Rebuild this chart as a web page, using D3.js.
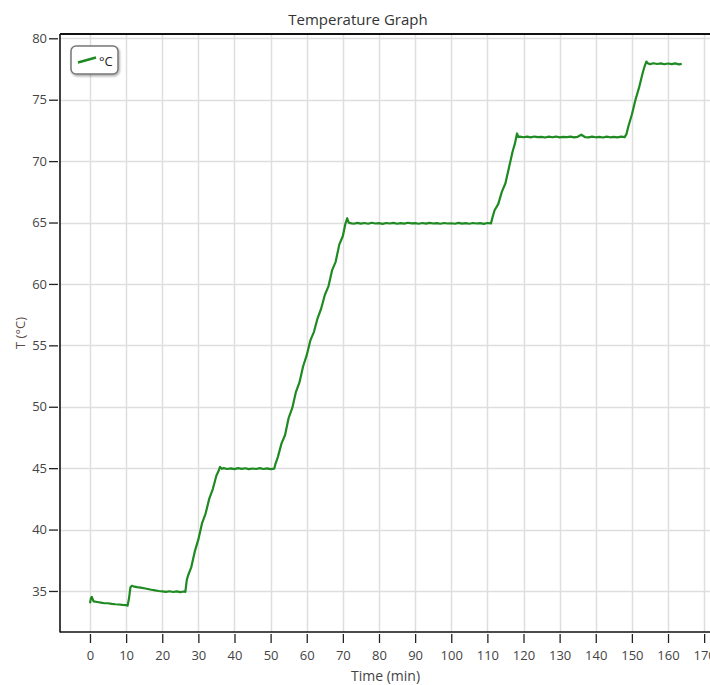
<!DOCTYPE html>
<html>
<head>
<meta charset="utf-8">
<script src="https://cdn.jsdelivr.net/npm/d3@7"></script>
<style>
  html, body { margin: 0; padding: 0; background: #fff; }
  svg { display: block; font-family: "Open Sans", "Noto Sans", sans-serif; }
</style>
</head>
<body>
<div id="chart"></div>
<script>
  ///
  /// Data
  ///
  var time = [
    0, 0.3, 0.5, 1, 2, 3, 4, 5, 6, 7, 8, 9, 10, 10.4,
    10.8, 11.2, 11.6, 12, 13, 14, 15, 16, 17, 18, 19, 20, 21, 22, 23, 24, 25, 26, 26.4,
    26.8, 27.2, 28, 29, 30, 31, 32, 33, 34, 35, 35.5, 36,
    36.5, 37, 38, 39, 40, 41, 42, 43, 44, 45, 46, 47, 48, 49, 50, 51,
    51.3, 52, 53, 54, 55, 56, 57, 58, 59, 60, 61, 62, 63, 64, 65, 66, 67, 68, 69, 70, 70.7, 71.2, 71.6,
    72, 73, 74, 75, 76, 77, 78, 79, 80, 81, 82, 83, 84, 85, 86, 87, 88, 89, 90, 91,
    92, 93, 94, 95, 96, 97, 98, 99, 100, 101, 102, 103, 104, 105, 106, 107, 108, 109, 110, 111,
    111.4, 112, 113, 114, 115, 116, 117, 117.6, 118.2, 118.6,
    119, 120, 121, 122, 123, 124, 125, 126, 127, 128, 129, 130, 131, 132, 133,
    134, 135, 136, 137, 138, 139, 140, 141, 142, 143, 144, 145, 146, 147, 148,
    148.5, 149, 150, 151, 152, 153, 153.5, 154,
    154.5, 155, 156, 157, 158, 159, 160, 161, 162, 163, 163.8
  ];

  var temp = [
    34.0, 34.45, 34.52, 34.15, 34.1, 34.05, 34.0, 34.0, 33.95, 33.92, 33.9, 33.87, 33.85, 33.8,
    34.4, 35.3, 35.42, 35.38, 35.32, 35.27, 35.22, 35.16, 35.1, 35.05, 35.0, 34.97, 34.93, 34.98, 34.92, 34.97, 34.91, 34.96, 34.93,
    35.9, 36.3, 36.9, 38.2, 39.2, 40.5, 41.3, 42.5, 43.3, 44.4, 44.7, 45.1,
    44.95, 45.0, 44.93, 44.98, 44.92, 45.0, 44.94, 44.99, 44.92, 44.97, 44.93, 45.0, 44.93, 44.98, 44.92, 44.96,
    45.3, 45.9, 47.0, 47.7, 49.1, 49.9, 51.2, 52.0, 53.3, 54.2, 55.4, 56.1, 57.2, 58.0, 59.1, 59.8, 61.1, 61.8, 63.2, 63.9, 64.9, 65.35, 65.0,
    64.95, 64.9, 64.97, 64.91, 64.96, 64.9, 64.98, 64.92, 64.95, 64.89, 64.96, 64.92, 64.97, 64.9, 64.95, 64.91, 64.98, 64.93, 64.95, 64.9,
    64.96, 64.91, 64.97, 64.92, 64.95, 64.9, 64.96, 64.92, 64.94, 64.9, 64.97, 64.91, 64.95, 64.9, 64.96, 64.92, 64.95, 64.89, 64.96, 64.93,
    65.4, 66.0, 66.5, 67.5, 68.2, 69.5, 70.8, 71.4, 72.25, 71.95,
    72.0, 71.94, 71.99, 71.93, 72.0, 71.95, 71.98, 71.92, 71.99, 71.94, 72.0, 71.93, 71.97, 71.95, 71.99,
    71.93, 71.98, 72.15, 71.96, 71.93, 71.99, 71.94, 71.98, 71.92, 71.99, 71.94, 71.97, 71.93, 71.99, 71.95,
    72.2, 72.8, 73.8, 75.0, 76.0, 77.2, 77.7, 78.1,
    77.95, 77.9, 77.97, 77.91, 77.96, 77.89, 77.95, 77.9, 77.96, 77.88, 77.92
  ];

  var xTicks = [0, 10, 20, 30, 40, 50, 60, 70, 80, 90, 100, 110, 120, 130, 140, 150, 160, 170];
  var yTicks = [35, 40, 45, 50, 55, 60, 65, 70, 75, 80];

  var title = "Temperature Graph";
  var xTitle = "Time (min)";
  var yTitle = "T (°C)";
  var seriesName = "°C";

  ///
  /// Layout
  ///
  var width = 710, height = 685;
  var plotLeft = 60, plotRight = 711, plotTop = 34, plotBottom = 632;
  var lineColor = "#1f8a22";

  var x = d3.scaleLinear().domain([-8.3, 171.9]).range([plotLeft, plotRight]);
  var y = d3.scaleLinear().domain([31.66, 80.35]).range([plotBottom, plotTop]);

  var svg = d3.select("#chart").append("svg")
      .attr("width", width)
      .attr("height", height);

  svg.append("rect").attr("width", width).attr("height", height).attr("fill", "#fff");

  var defs = svg.append("defs");
  var shadow = defs.append("filter").attr("id", "shadow")
      .attr("x", "-20%").attr("y", "-20%").attr("width", "150%").attr("height", "160%");
  shadow.append("feDropShadow")
      .attr("dx", 1).attr("dy", 1.5).attr("stdDeviation", 1.2)
      .attr("flood-color", "#000").attr("flood-opacity", 0.35);

  // gridlines
  svg.append("g").selectAll("line.vg")
    .data(xTicks).join("line")
      .attr("x1", d => Math.round(x(d)) + 0.5).attr("x2", d => Math.round(x(d)) + 0.5)
      .attr("y1", plotTop).attr("y2", plotBottom)
      .attr("stroke", "#dedede").attr("stroke-width", 1.5);

  svg.append("g").selectAll("line.hg")
    .data(yTicks).join("line")
      .attr("x1", plotLeft).attr("x2", plotRight)
      .attr("y1", d => Math.round(y(d)) + 0.5).attr("y2", d => Math.round(y(d)) + 0.5)
      .attr("stroke", "#dedede").attr("stroke-width", 1.5);

  // axes (ticks sit a little away from the frame)
  var xAxis = svg.append("g")
      .attr("transform", "translate(0," + (plotBottom + 2) + ")")
      .call(d3.axisBottom(x).tickValues(xTicks).tickSize(9).tickPadding(8));

  var yAxis = svg.append("g")
      .attr("transform", "translate(" + (plotLeft - 2) + ",0)")
      .call(d3.axisLeft(y).tickValues(yTicks).tickSize(9).tickPadding(2));

  [xAxis, yAxis].forEach(function(g) {
    g.select(".domain").remove();
    g.selectAll(".tick line").attr("stroke", "#222").attr("stroke-width", 1.3);
    g.selectAll(".tick text")
      .attr("fill", "#444")
      .style("font-size", "13px")
      .style("font-family", "'Open Sans', 'Noto Sans', sans-serif");
  });

  // frame
  svg.append("line")
      .attr("x1", plotLeft).attr("x2", plotLeft)
      .attr("y1", plotTop).attr("y2", plotBottom + 0.5)
      .attr("stroke", "#111").attr("stroke-width", 1.6);
  svg.append("line")
      .attr("x1", plotLeft).attr("x2", plotRight)
      .attr("y1", plotBottom).attr("y2", plotBottom)
      .attr("stroke", "#111").attr("stroke-width", 1.6);
  svg.append("line")
      .attr("x1", plotLeft).attr("x2", plotRight)
      .attr("y1", plotTop).attr("y2", plotTop)
      .attr("stroke", "#111").attr("stroke-width", 2);

  // the series
  var pts = time.map((t, i) => [t, temp[i]]);
  var line = d3.line().x(d => x(d[0])).y(d => y(d[1]));

  svg.append("path")
      .datum(pts)
      .attr("d", line)
      .attr("fill", "none")
      .attr("stroke", lineColor)
      .attr("stroke-width", 2.2)
      .attr("stroke-linejoin", "round");

  // titles
  svg.append("text")
      .attr("x", 358).attr("y", 25)
      .attr("text-anchor", "middle")
      .attr("fill", "#333")
      .style("font-size", "15px")
      .text(title);

  svg.append("text")
      .attr("x", (plotLeft + plotRight) / 2).attr("y", 681)
      .attr("text-anchor", "middle")
      .attr("fill", "#444")
      .style("font-size", "14px")
      .text(xTitle);

  svg.append("text")
      .attr("transform", "translate(25," + ((plotTop + plotBottom) / 2) + ") rotate(-90)")
      .attr("text-anchor", "middle")
      .attr("fill", "#5a4a44")
      .style("font-size", "13px")
      .text(yTitle);

  // legend
  var legend = svg.append("g").attr("transform", "translate(71,46)");
  legend.append("rect")
      .attr("width", 47).attr("height", 28).attr("rx", 5)
      .attr("fill", "#fff")
      .attr("stroke", "#777").attr("stroke-width", 1.5)
      .attr("filter", "url(#shadow)");
  legend.append("line")
      .attr("x1", 7).attr("y1", 16.5).attr("x2", 25).attr("y2", 11.5)
      .attr("stroke", lineColor).attr("stroke-width", 2.5);
  legend.append("text")
      .attr("x", 28).attr("y", 20)
      .attr("fill", "#222")
      .style("font-size", "13px")
      .text(seriesName);
</script>
</body>
</html>
